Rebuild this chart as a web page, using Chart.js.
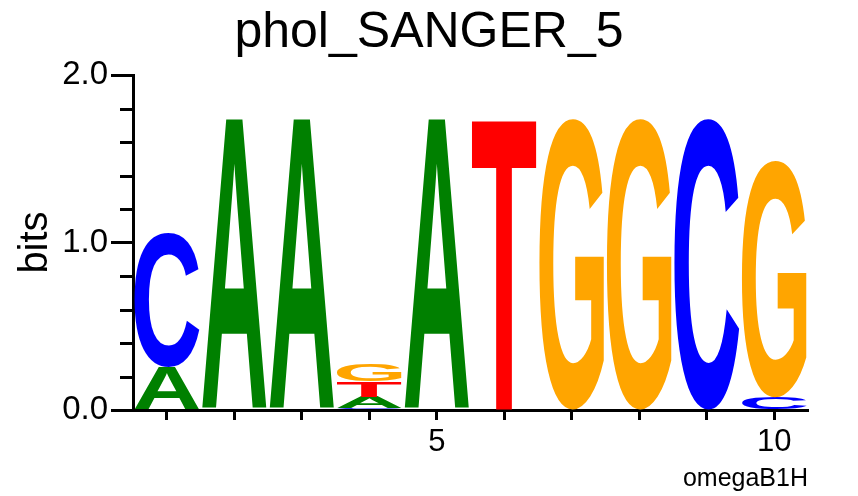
<!DOCTYPE html>
<html>
<head>
<meta charset="utf-8">
<title>phol_SANGER_5</title>
<script src="https://cdn.jsdelivr.net/npm/chart.js@4/dist/chart.umd.min.js"></script>
<style>
    body { margin: 0; background: #fff; }
    #wrap { width: 858px; height: 496px; }
</style>
</head>
<body>
<div id="wrap"><canvas id="logoChart" width="858" height="496"></canvas></div>
<script>
// Données du logo (bits par position, empilés du bas vers le haut)
const positions = [1, 2, 3, 4, 5, 6, 7, 8, 9, 10];

const layer1Letters = ['A', 'A', 'A', 'C', 'A', 'T', 'G', 'G', 'C', 'C'];
const layer1Bits    = [0.26, 1.74, 1.74, 0.01, 1.74, 1.74, 1.74, 1.74, 1.74, 0.075];

const layer2Letters = ['C', '', '', 'A', '', '', '', '', '', 'G'];
const layer2Bits    = [0.805, 0, 0, 0.07, 0, 0, 0, 0, 0, 1.415];

const layer3Letters = ['', '', '', 'T', '', '', '', '', '', ''];
const layer3Bits    = [0, 0, 0, 0.09, 0, 0, 0, 0, 0, 0];

const layer4Letters = ['', '', '', 'G', '', '', '', '', '', ''];
const layer4Bits    = [0, 0, 0, 0.10, 0, 0, 0, 0, 0, 0];

// Graduations
const xLabeledTicks = [5, 10];
const yMajorTicks = [0, 1, 2];
const yMinorTicks = [0.2, 0.4, 0.6, 0.8, 1.2, 1.4, 1.6, 1.8];

const letterColors = { A: '#008000', C: '#0000ff', G: '#ffa500', T: '#ff0000' };

const FONT = '"Liberation Sans", Arial, Helvetica, sans-serif';

// Dessine une lettre étirée dans le rectangle de la barre
function drawGlyph(ctx, letter, left, top, w, h) {
    if (!letter || h <= 0 || w <= 0) return;
    ctx.save();
    ctx.font = 'bold 200px ' + FONT;
    ctx.textAlign = 'left';
    ctx.textBaseline = 'alphabetic';
    const m = ctx.measureText(letter);
    const gw = m.actualBoundingBoxLeft + m.actualBoundingBoxRight;
    const gh = m.actualBoundingBoxAscent + m.actualBoundingBoxDescent;
    ctx.translate(left, top);
    ctx.scale(w / gw, h / gh);
    ctx.fillStyle = letterColors[letter] || '#000';
    ctx.fillText(letter, m.actualBoundingBoxLeft, m.actualBoundingBoxAscent);
    ctx.restore();
}

const glyphPlugin = {
    id: 'glyphs',
    afterDatasetsDraw(chart) {
        const ctx = chart.ctx;
        chart.data.datasets.forEach((ds, di) => {
            const meta = chart.getDatasetMeta(di);
            meta.data.forEach((bar, i) => {
                const p = bar.getProps(['x', 'y', 'base', 'width'], true);
                const top = Math.min(p.y, p.base);
                const h = Math.abs(p.base - p.y);
                drawGlyph(ctx, ds.letters[i], p.x - p.width / 2, top, p.width, h);
            });
        });
    },
    afterDraw(chart) {
        // petites graduations de l'axe des bits
        const ctx = chart.ctx;
        const y = chart.scales.y;
        const left = chart.chartArea.left;
        ctx.save();
        ctx.strokeStyle = '#000';
        ctx.lineWidth = 3;
        yMinorTicks.forEach(v => {
            const py = Math.round(y.getPixelForValue(v)) + 0.5;
            ctx.beginPath();
            ctx.moveTo(left - 13, py);
            ctx.lineTo(left, py);
            ctx.stroke();
        });
        ctx.restore();
    }
};

const layers = [
    [layer1Letters, layer1Bits],
    [layer2Letters, layer2Bits],
    [layer3Letters, layer3Bits],
    [layer4Letters, layer4Bits]
];

const datasets = layers.map(([letters, bits], k) => ({
    label: 'layer' + (k + 1),
    letters: letters,
    data: positions.map((x, i) => ({ x: x, y: bits[i] })),
    backgroundColor: 'rgba(0,0,0,0)',
    borderWidth: 0,
    barPercentage: 0.96,
    categoryPercentage: 1.0
}));

Chart.defaults.color = '#000';
Chart.defaults.font.family = FONT;

const chart = new Chart(document.getElementById('logoChart').getContext('2d'), {
    type: 'bar',
    data: { datasets: datasets },
    plugins: [glyphPlugin],
    options: {
        responsive: false,
        animation: false,
        devicePixelRatio: 1,
        layout: { padding: 0 },
        plugins: {
            legend: { display: false },
            tooltip: { enabled: false },
            title: {
                display: true,
                text: 'phol_SANGER_5',
                color: '#000',
                font: { size: 50, weight: 'normal' },
                padding: { top: 3, bottom: 12 }
            }
        },
        scales: {
            x: {
                type: 'linear',
                stacked: true,
                offset: false,
                min: 0.5,
                max: 10.5,
                afterFit: s => { s.height = 86; },
                afterBuildTicks: s => { s.ticks = positions.map(v => ({ value: v })); },
                border: { display: true, color: '#000', width: 3 },
                grid: { display: true, drawOnChartArea: false, offset: false, tickLength: 10, tickWidth: 3, tickColor: '#000' },
                ticks: {
                    autoSkip: false,
                    maxRotation: 0,
                    padding: 4,
                    font: { size: 31 },
                    callback: v => xLabeledTicks.includes(v) ? String(v) : ''
                },
                title: {
                    display: true,
                    text: 'omegaB1H',
                    align: 'end',
                    font: { size: 25 },
                    padding: { top: 0, bottom: 2 }
                }
            },
            y: {
                stacked: true,
                min: 0,
                max: 2,
                afterFit: s => { s.width = 133; },
                border: { display: true, color: '#000', width: 3 },
                grid: {
                    display: true,
                    drawOnChartArea: false,
                    tickLength: 22,
                    tickWidth: 3,
                    tickColor: c => yMajorTicks.some(t => Math.abs(t - c.tick.value) < 1e-6) ? '#000' : 'rgba(0,0,0,0)'
                },
                ticks: {
                    stepSize: 0.2,
                    autoSkip: false,
                    padding: 3,
                    font: { size: 33 },
                    callback: v => yMajorTicks.some(t => Math.abs(t - v) < 1e-6) ? v.toFixed(1) : ''
                },
                title: {
                    display: true,
                    text: 'bits',
                    font: { size: 40 },
                    padding: { top: 12, bottom: 0 }
                }
            },
            // axe vide à droite pour garder la marge sans décaler le titre
            yRight: {
                position: 'right',
                display: true,
                min: 0,
                max: 2,
                afterFit: s => { s.width = 50; },
                border: { display: false },
                grid: { display: false },
                ticks: { display: false },
                title: { display: false }
            }
        }
    }
});
</script>
</body>
</html>
